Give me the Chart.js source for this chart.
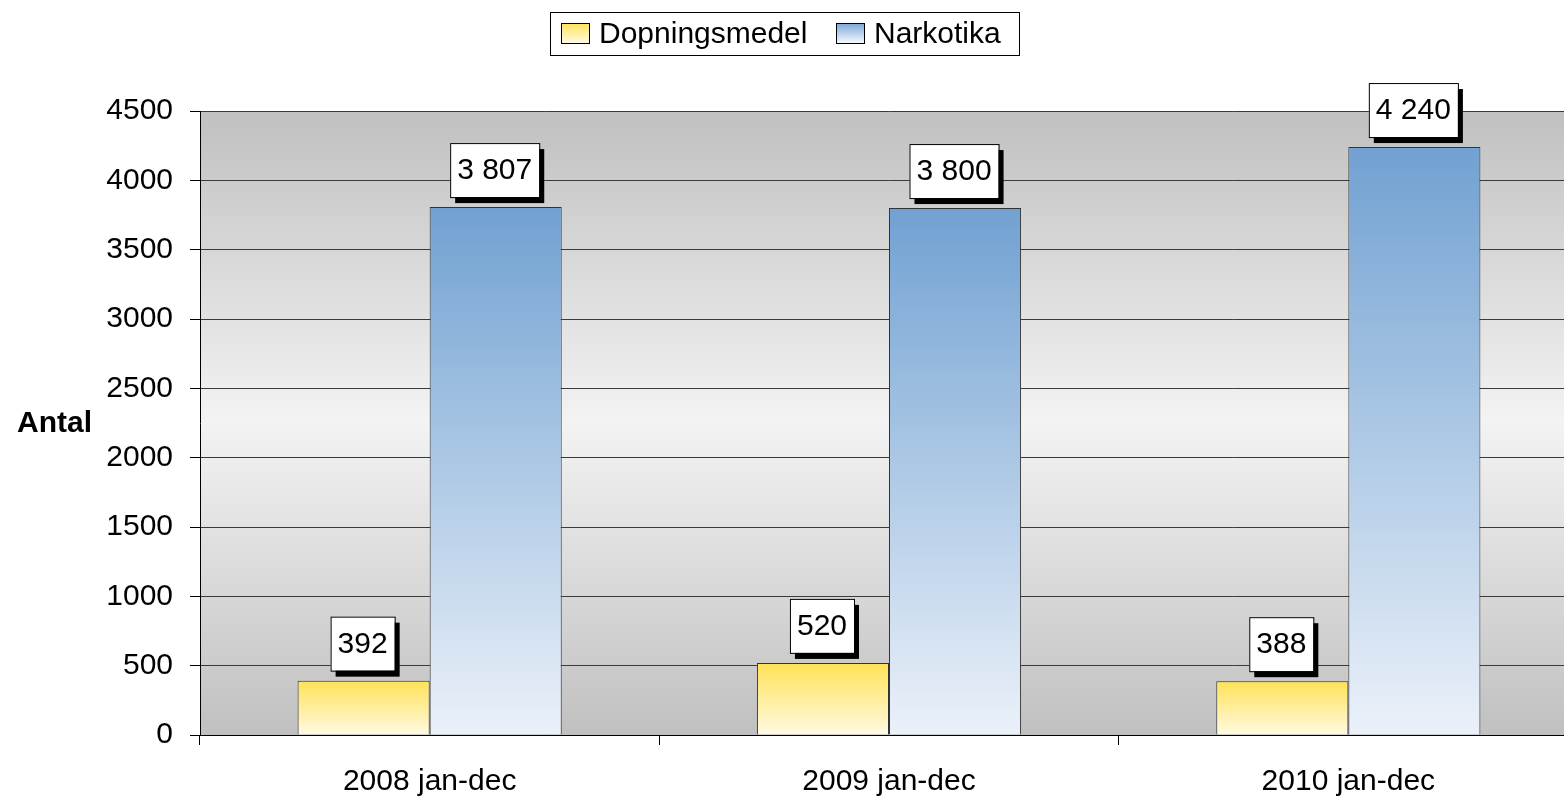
<!DOCTYPE html>
<html>
<head>
<meta charset="utf-8">
<script src="https://cdn.jsdelivr.net/npm/chart.js@4/dist/chart.umd.min.js"></script>
<style>
  html, body { margin: 0; padding: 0; background: #fff; overflow: hidden; }
  #wrap { width: 1564px; height: 801px; overflow: hidden; }
</style>
</head>
<body>
<div id="wrap"><canvas id="chart" width="1578" height="801"></canvas></div>
<script>
// chart data
const categories = ['2008 jan-dec', '2009 jan-dec', '2010 jan-dec'];
const seriesNames = ['Dopningsmedel', 'Narkotika'];
const doping = [392, 520, 388];
const narkotika = [3807, 3800, 4240];
const yTicks = [0, 500, 1000, 1500, 2000, 2500, 3000, 3500, 4000, 4500];

const FONT = 'Liberation Sans, Arial, sans-serif';

// colours for the bar gradients (top -> bottom)
const yellowStops = ['#ffe257', '#fffae3'];
const blueStops = ['#71a1d2', '#ebf1f9'];

function fmt(v) {
  return String(v).replace(/\B(?=(\d{3})+(?!\d))/g, ' ');
}

function barGradient(stops) {
  return function(context) {
    const chart = context.chart;
    if (!chart.chartArea || context.raw == null) return stops[0];
    const y = chart.scales.y;
    const top = y.getPixelForValue(context.raw);
    const bottom = y.getPixelForValue(0);
    const g = chart.ctx.createLinearGradient(0, top, 0, bottom);
    g.addColorStop(0, stops[0]);
    g.addColorStop(1, stops[1]);
    return g;
  };
}

// plot background: grey at top and bottom, nearly white in the middle
const plotBackground = {
  id: 'plotBackground',
  beforeDraw(chart) {
    const { ctx, chartArea: a } = chart;
    const g = ctx.createLinearGradient(0, a.top, 0, a.bottom);
    g.addColorStop(0, '#c0c0c0');
    g.addColorStop(0.5, '#f3f3f3');
    g.addColorStop(1, '#c0c0c0');
    ctx.save();
    ctx.fillStyle = g;
    ctx.fillRect(a.left, a.top, a.right - a.left, a.bottom - a.top);
    ctx.restore();
  }
};

// boxed value labels with a black drop shadow
const valueLabels = {
  id: 'valueLabels',
  afterDatasetsDraw(chart) {
    const ctx = chart.ctx;
    ctx.save();
    ctx.font = '30px ' + FONT;
    ctx.textAlign = 'center';
    ctx.textBaseline = 'middle';
    chart.data.datasets.forEach((ds, di) => {
      chart.getDatasetMeta(di).data.forEach((bar, i) => {
        const text = fmt(ds.data[i]);
        const w = ctx.measureText(text).width + 14;
        const h = 54;
        const x = bar.x - w / 2 - 1;
        const y = bar.y - 10 - h;
        ctx.fillStyle = '#000';
        ctx.fillRect(x + 5, y + 6, w, h);
        ctx.fillStyle = '#fff';
        ctx.fillRect(x, y, w, h);
        ctx.strokeStyle = '#000';
        ctx.lineWidth = 1;
        ctx.strokeRect(x + 0.5, y + 0.5, w, h);
        ctx.fillStyle = '#000';
        ctx.fillText(text, x + w / 2, y + h / 2 + 1);
      });
    });
    ctx.restore();
  }
};

// legend box at the top and the horizontal "Antal" axis title
const legendAndTitle = {
  id: 'legendAndTitle',
  afterDraw(chart) {
    const ctx = chart.ctx;
    ctx.save();
    ctx.strokeStyle = '#000';
    ctx.lineWidth = 1;
    ctx.strokeRect(550.5, 12.5, 469, 43);

    const items = [
      { x: 561, stops: yellowStops, label: seriesNames[0] },
      { x: 836, stops: ['#7aa6d8', '#f4f8fc'], label: seriesNames[1] }
    ];
    ctx.font = '30px ' + FONT;
    ctx.textBaseline = 'middle';
    ctx.textAlign = 'left';
    items.forEach(it => {
      const g = ctx.createLinearGradient(0, 23, 0, 43);
      g.addColorStop(0, it.stops[0]);
      g.addColorStop(1, it.stops[1]);
      ctx.fillStyle = g;
      ctx.fillRect(it.x, 23, 28, 20);
      ctx.strokeStyle = '#000';
      ctx.strokeRect(it.x + 0.5, 23.5, 28, 20);
      ctx.fillStyle = '#000';
      ctx.fillText(it.label, it.x + 38, 35);
    });

    ctx.font = 'bold 30px ' + FONT;
    ctx.fillText('Antal', 17, 424);
    ctx.restore();
  }
};

new Chart(document.getElementById('chart'), {
  type: 'bar',
  data: {
    labels: categories,
    datasets: [
      {
        label: seriesNames[0],
        data: doping,
        backgroundColor: barGradient(yellowStops),
        borderColor: '#333',
        borderWidth: 1,
        categoryPercentage: 0.575,
        barPercentage: 1.0
      },
      {
        label: seriesNames[1],
        data: narkotika,
        backgroundColor: barGradient(blueStops),
        borderColor: '#333',
        borderWidth: 1,
        categoryPercentage: 0.575,
        barPercentage: 1.0
      }
    ]
  },
  options: {
    responsive: false,
    animation: false,
    layout: { padding: { top: 111, right: 0, bottom: 0, left: 0 } },
    plugins: {
      legend: { display: false },
      tooltip: { enabled: false }
    },
    scales: {
      x: {
        offset: true,
        grid: {
          offset: true,
          drawOnChartArea: false,
          tickLength: 10,
          color: '#000'
        },
        border: { color: '#000', width: 1 },
        ticks: {
          color: '#000',
          padding: 19,
          font: { family: FONT, size: 30 }
        },
        afterFit(scale) { scale.height = 66; }
      },
      y: {
        min: 0,
        max: 4500,
        afterBuildTicks(scale) { scale.ticks = yTicks.map(v => ({ value: v })); },
        grid: {
          color: '#3a3a3a',
          tickLength: 10,
          tickColor: '#000'
        },
        border: { color: '#000', width: 1 },
        ticks: {
          color: '#000',
          padding: 17,
          font: { family: FONT, size: 30 },
          callback: v => String(v)
        },
        afterFit(scale) { scale.width = 200; }
      }
    }
  },
  plugins: [plotBackground, valueLabels, legendAndTitle]
});
</script>
</body>
</html>
